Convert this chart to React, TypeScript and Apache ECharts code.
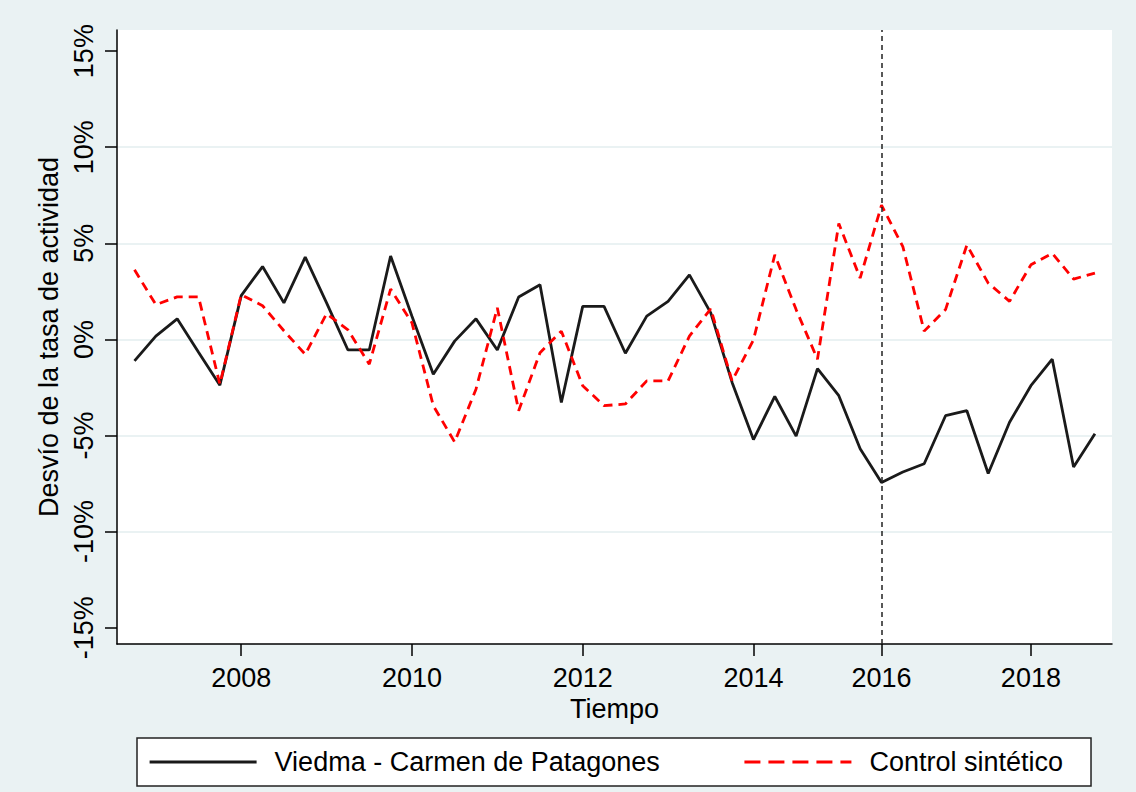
import React, { useEffect, useRef } from "react";
import * as echarts from "echarts";

// Quarterly observations (EPH); 2015-Q3 to 2016-Q1 are not available.
const quarters: string[] = [
  "2006-Q4",
  "2007-Q1", "2007-Q2", "2007-Q3", "2007-Q4",
  "2008-Q1", "2008-Q2", "2008-Q3", "2008-Q4",
  "2009-Q1", "2009-Q2", "2009-Q3", "2009-Q4",
  "2010-Q1", "2010-Q2", "2010-Q3", "2010-Q4",
  "2011-Q1", "2011-Q2", "2011-Q3", "2011-Q4",
  "2012-Q1", "2012-Q2", "2012-Q3", "2012-Q4",
  "2013-Q1", "2013-Q2", "2013-Q3", "2013-Q4",
  "2014-Q1", "2014-Q2", "2014-Q3", "2014-Q4",
  "2015-Q1", "2015-Q2",
  "2016-Q2", "2016-Q3", "2016-Q4",
  "2017-Q1", "2017-Q2", "2017-Q3", "2017-Q4",
  "2018-Q1", "2018-Q2", "2018-Q3", "2018-Q4",
];

// Deviation of the activity rate (%)
const viedma: number[] = [
  -1.12, 0.17, 1.07, -0.67, -2.38, 2.28, 3.79, 1.9, 4.28, 1.9,
  -0.55, -0.55, 4.34, 1.2, -1.81, -0.09, 1.07, -0.55, 2.21, 2.84,
  -3.28, 1.72, 1.72, -0.72, 1.21, 1.98, 3.36, 1.38, -2.24, -5.21,
  -2.97, -5.03, -1.52, -2.93, -5.69, -7.45, -6.9, -6.47, -3.97, -3.71,
  -6.98, -4.31, -2.41, -1.03, -6.64, -4.91,
];

const sintetico: number[] = [
  3.62, 1.81, 2.21, 2.21, -2.33, 2.33, 1.75, 0.45, -0.78, 1.34,
  0.5, -1.29, 2.62, 0.86, -3.45, -5.34, -2.59, 1.64, -3.71, -0.69,
  0.43, -2.41, -3.45, -3.36, -2.16, -2.16, 0.17, 1.59, -2.16, -0.03,
  4.4, 1.55, -1.03, 6.03, 3.19, 6.98, 4.83, 0.43, 1.55, 4.91,
  2.93, 1.98, 3.88, 4.48, 3.14, 3.45,
];

// Year labels sit on the first available quarter of each even year.
const yearLabels: string[] = ["2008", "2010", "2012", "2014", "2016", "2018"];
const yTickValues: number[] = [-15, -10, -5, 0, 5, 10, 15];
const treatmentQuarter = "2016-Q2";
const seriesNames: string[] = ["Viedma - Carmen de Patagones", "Control sintético"];

const FONT = "'Liberation Sans', Arial, sans-serif";
const BG = "#eaf2f3";

export default function App() {
  const ref = useRef<HTMLDivElement>(null);

  useEffect(() => {
    if (!ref.current) return;
    const chart = echarts.init(ref.current, undefined, { renderer: "svg" });

    const yearTickIdx = yearLabels.map((y) => quarters.findIndex((q) => q.startsWith(y)));
    const labelByIdx: Record<number, string> = {};
    yearTickIdx.forEach((idx, k) => (labelByIdx[idx] = yearLabels[k]));
    const treatIdx = quarters.indexOf(treatmentQuarter);

    const toPairs = (vals: number[]) => vals.map((v, i) => [i, v]);
    const grid = BG;
    const clear = "rgba(0,0,0,0)";
    // legend keys show only the line, without a marker in the middle
    const noMarker = { color: clear, borderColor: clear, borderWidth: 0, opacity: 0 };

    chart.setOption({
      animation: false,
      backgroundColor: BG,
      textStyle: { fontFamily: FONT },
      grid: {
        left: 117,
        top: 30,
        right: 24,
        bottom: 148,
        show: true,
        backgroundColor: "#ffffff",
        borderWidth: 0,
        containLabel: false,
        outerBoundsMode: "none",
      },
      xAxis: {
        type: "value",
        min: -0.82,
        max: 45.8,
        name: "Tiempo",
        nameLocation: "middle",
        nameGap: 50,
        nameTextStyle: { fontSize: 27, color: "#000", fontFamily: FONT },
        axisLine: { show: true, onZero: false, lineStyle: { color: "#000", width: 1.5 } },
        axisTick: {
          show: true,
          length: 12,
          customValues: yearTickIdx,
          lineStyle: { color: "#000", width: 1.5 },
        },
        axisLabel: {
          customValues: yearTickIdx,
          margin: 20,
          fontSize: 27,
          color: "#000",
          fontFamily: FONT,
          formatter: (v: number) => labelByIdx[Math.round(v)] ?? "",
        },
        splitLine: { show: false },
      },
      yAxis: {
        type: "value",
        min: -15.85,
        max: 16.1,
        name: "Desvío de la tasa de actividad",
        nameLocation: "middle",
        nameRotate: 90,
        nameGap: 48,
        nameTextStyle: { fontSize: 27, color: "#000", fontFamily: FONT },
        axisLine: { show: true, onZero: false, lineStyle: { color: "#000", width: 1.5 } },
        axisTick: {
          show: true,
          length: 12,
          customValues: yTickValues,
          lineStyle: { color: "#000", width: 1.5 },
        },
        axisLabel: {
          customValues: yTickValues,
          rotate: 90,
          margin: 20,
          fontSize: 27,
          color: "#000",
          fontFamily: FONT,
          formatter: (v: number) => `${Math.round(v)}%`,
        },
        splitLine: {
          show: true,
          lineStyle: { color: [clear, grid, grid, grid, grid, grid, clear], width: 2 },
        },
      },
      legend: {
        left: 137,
        top: 738,
        orient: "horizontal",
        padding: [9, 28, 9, 11],
        itemGap: 83,
        itemWidth: 107,
        itemHeight: 14,
        backgroundColor: "#ffffff",
        borderColor: "#222",
        borderWidth: 1.5,
        borderRadius: 0,
        textStyle: {
          fontSize: 27,
          color: "#000",
          fontFamily: FONT,
          lineHeight: 30,
          padding: [0, 0, 0, 13],
        },
        data: [
          {
            name: seriesNames[0],
            itemStyle: noMarker,
            lineStyle: { color: "#1a1a1a", width: 3.2, type: "solid" },
          },
          {
            name: seriesNames[1],
            itemStyle: noMarker,
            lineStyle: { color: "#ff0000", width: 3.2, type: [16, 8] },
          },
        ],
      },
      series: [
        {
          name: seriesNames[0],
          type: "line",
          data: toPairs(viedma),
          symbol: "none",
          showSymbol: false,
          lineStyle: { color: "#1a1a1a", width: 2.8 },
          itemStyle: { color: "#1a1a1a" },
          markLine: {
            silent: true,
            symbol: "none",
            label: { show: false },
            lineStyle: { color: "#222", width: 1.5, type: [5, 4] },
            data: [{ xAxis: treatIdx }],
          },
        },
        {
          name: seriesNames[1],
          type: "line",
          data: toPairs(sintetico),
          symbol: "none",
          showSymbol: false,
          lineStyle: { color: "#ff0000", width: 2.8, type: [9, 6] },
          itemStyle: { color: "#ff0000" },
        },
      ],
    });

    return () => chart.dispose();
  }, []);

  return (
    <div
      ref={ref}
      style={{ position: "fixed", left: 0, top: 0, width: 1136, height: 792 }}
    />
  );
}
